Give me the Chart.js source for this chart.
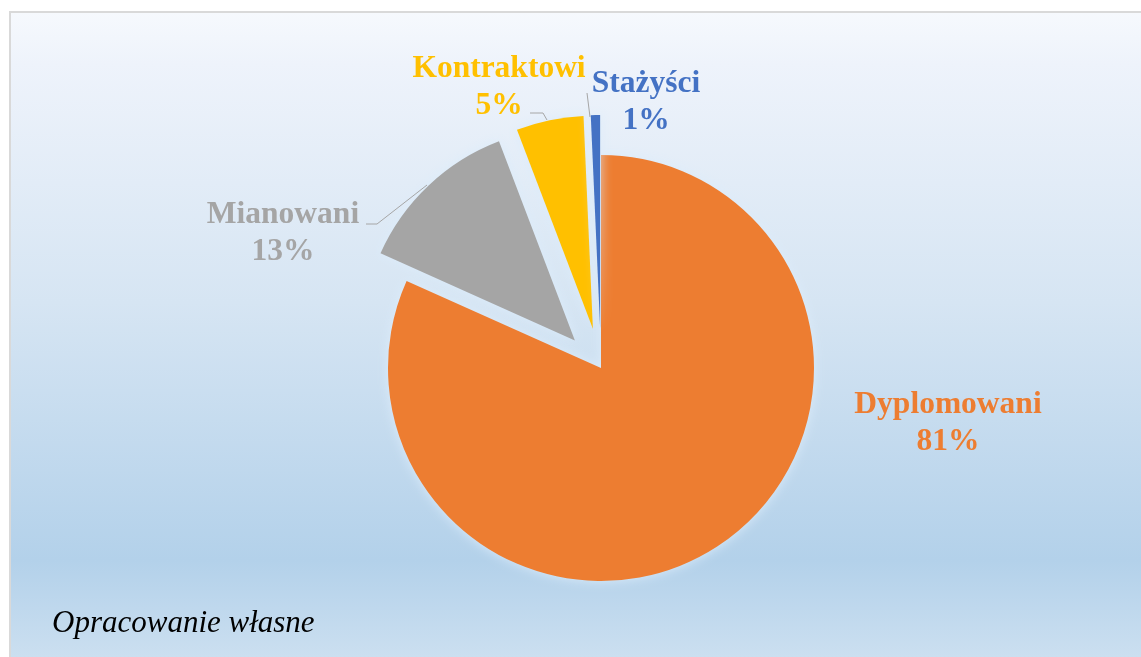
<!DOCTYPE html>
<html>
<head>
<meta charset="utf-8">
<script src="https://cdn.jsdelivr.net/npm/chart.js@4"></script>
<style>
  html, body { margin: 0; padding: 0; background: #ffffff; }
  #wrap { width: 1141px; height: 657px; position: relative; }
  canvas { display: block; }
</style>
</head>
<body>
<div id="wrap"><canvas id="c" width="1141" height="657"></canvas></div>
<script>
const categories = ['Dyplomowani', 'Mianowani', 'Kontraktowi', 'Stażyści'];
const values = [81.7, 12.5, 5.1, 0.7];
const percentLabels = ['81%', '13%', '5%', '1%'];
const colors = ['#ED7D31', '#A5A5A5', '#FFC000', '#4472C4'];
const explode = [0, 38, 40, 40];
const sourceNote = 'Opracowanie własne';

const bgPlugin = {
  id: 'bg',
  beforeDraw(chart) {
    const ctx = chart.ctx;
    const W = chart.width, H = chart.height;
    ctx.save();
    ctx.fillStyle = '#ffffff';
    ctx.fillRect(0, 0, W, H);
    const g = ctx.createLinearGradient(0, 12, 0, H);
    g.addColorStop(0, '#f6f9fd');
    g.addColorStop(0.08, '#eef3fb');
    g.addColorStop(0.45, '#d6e5f3');
    g.addColorStop(0.85, '#b3d1ea');
    g.addColorStop(1, '#cbdff0');
    ctx.fillStyle = g;
    ctx.fillRect(10, 12, W - 10, H - 12);
    ctx.fillStyle = '#d9d9d9';
    ctx.fillRect(9, 11, W - 9, 2);
    ctx.fillRect(9, 11, 2, H - 11);
    ctx.restore();
  }
};

const explodePlugin = {
  id: 'explode',
  beforeDatasetDraw(chart, args) {
    const ctx = chart.ctx;
    ctx.save();
    ctx.shadowColor = 'rgba(220,236,250,1)';
    ctx.shadowBlur = 12;
    args.meta.data.forEach((arc, i) => {
      const d = explode[i] || 0;
      const mid = (arc.startAngle + arc.endAngle) / 2;
      arc._origX = arc.x;
      arc._origY = arc.y;
      arc.x = arc.x + Math.cos(mid) * d;
      arc.y = arc.y + Math.sin(mid) * d;
    });
  },
  afterDatasetDraw(chart, args) {
    args.meta.data.forEach(arc => {
      arc.x = arc._origX;
      arc.y = arc._origY;
    });
    chart.ctx.restore();
  }
};

const labelPlugin = {
  id: 'pieLabels',
  afterDraw(chart, args, opts) {
    const ctx = chart.ctx;
    ctx.save();
    ctx.strokeStyle = '#a6a6a6';
    ctx.lineWidth = 1;
    opts.leaders.forEach(pts => {
      if (!pts) return;
      ctx.beginPath();
      pts.forEach((p, i) => i ? ctx.lineTo(p[0], p[1]) : ctx.moveTo(p[0], p[1]));
      ctx.stroke();
    });
    ctx.font = 'bold 31.5px "Liberation Serif", "Times New Roman", serif';
    ctx.textAlign = 'center';
    ctx.textBaseline = 'alphabetic';
    categories.forEach((cat, i) => {
      const p = opts.positions[i];
      ctx.fillStyle = colors[i];
      ctx.fillText(cat, p[0], p[1]);
      ctx.fillText(percentLabels[i], p[0], p[1] + 37);
    });
    ctx.font = 'italic 31px "Liberation Serif", "Times New Roman", serif';
    ctx.textAlign = 'left';
    ctx.fillStyle = '#000000';
    ctx.fillText(sourceNote, 52, 632);
    ctx.restore();
  }
};

new Chart(document.getElementById('c'), {
  type: 'pie',
  data: {
    labels: categories,
    datasets: [{
      data: values,
      backgroundColor: colors,
      borderWidth: 0,
      clip: false
    }]
  },
  options: {
    responsive: false,
    animation: false,
    radius: 213,
    layout: { padding: { left: 61, right: 0, top: 79, bottom: 0 } },
    plugins: {
      legend: { display: false },
      tooltip: { enabled: false },
      pieLabels: {
        positions: [[948, 413], [283, 223], [499, 77], [646, 92]],
        leaders: [null, [[366, 224], [377, 224], [427, 185]], [[530, 113], [543, 113], [547, 120]], [[587, 93], [590, 117]]]
      }
    }
  },
  plugins: [bgPlugin, explodePlugin, labelPlugin]
});
</script>
</body>
</html>
